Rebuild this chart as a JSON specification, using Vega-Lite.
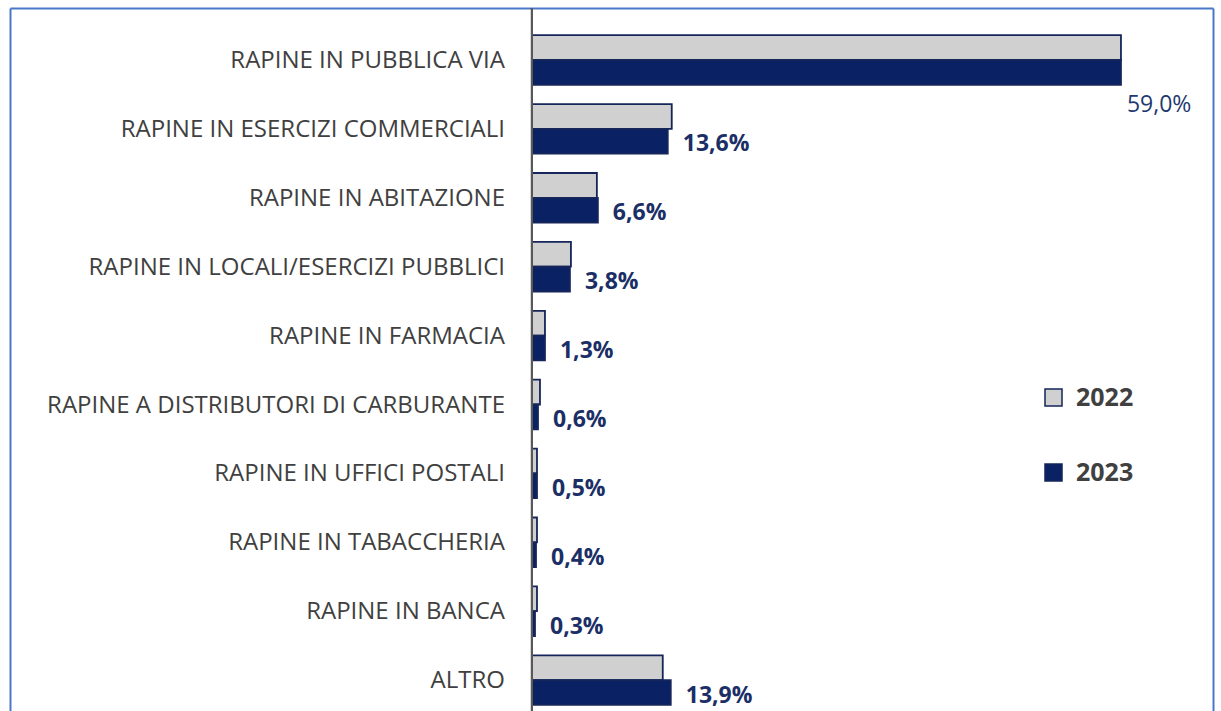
{
  "$schema": "https://vega.github.io/schema/vega-lite/v6.json",
  "autosize": {"type": "none"},
  "padding": {"top": 8, "left": 10, "right": 8, "bottom": 0},
  "width": 1203,
  "height": 703,
  "background": "white",
  "config": {
    "view": {"stroke": null},
    "locale": {"number": {"decimal": ",", "thousands": ".", "grouping": [3], "currency": ["€", ""]}},
    "font": "Open Sans"
  },
  "data": {
    "values": [
      {"cat": "RAPINE IN PUBBLICA VIA", "year": "2022", "v": 0.590},
      {"cat": "RAPINE IN PUBBLICA VIA", "year": "2023", "v": 0.590},
      {"cat": "RAPINE IN ESERCIZI COMMERCIALI", "year": "2022", "v": 0.140},
      {"cat": "RAPINE IN ESERCIZI COMMERCIALI", "year": "2023", "v": 0.136},
      {"cat": "RAPINE IN ABITAZIONE", "year": "2022", "v": 0.065},
      {"cat": "RAPINE IN ABITAZIONE", "year": "2023", "v": 0.066},
      {"cat": "RAPINE IN LOCALI/ESERCIZI PUBBLICI", "year": "2022", "v": 0.039},
      {"cat": "RAPINE IN LOCALI/ESERCIZI PUBBLICI", "year": "2023", "v": 0.038},
      {"cat": "RAPINE IN FARMACIA", "year": "2022", "v": 0.013},
      {"cat": "RAPINE IN FARMACIA", "year": "2023", "v": 0.013},
      {"cat": "RAPINE A DISTRIBUTORI DI CARBURANTE", "year": "2022", "v": 0.008},
      {"cat": "RAPINE A DISTRIBUTORI DI CARBURANTE", "year": "2023", "v": 0.006},
      {"cat": "RAPINE IN UFFICI POSTALI", "year": "2022", "v": 0.005},
      {"cat": "RAPINE IN UFFICI POSTALI", "year": "2023", "v": 0.005},
      {"cat": "RAPINE IN TABACCHERIA", "year": "2022", "v": 0.005},
      {"cat": "RAPINE IN TABACCHERIA", "year": "2023", "v": 0.004},
      {"cat": "RAPINE IN BANCA", "year": "2022", "v": 0.005},
      {"cat": "RAPINE IN BANCA", "year": "2023", "v": 0.003},
      {"cat": "ALTRO", "year": "2022", "v": 0.131},
      {"cat": "ALTRO", "year": "2023", "v": 0.139}
    ]
  },
  "resolve": {"axis": {"y": "independent"}},
  "layer": [
    {
      "mark": {"type": "bar", "stroke": "#16255a", "strokeWidth": 1.8},
      "encoding": {
        "y": {
          "field": "cat", "type": "nominal", "sort": null,
          "scale": {"paddingInner": 0.28, "paddingOuter": 0.2417, "align": 0.817},
          "axis": {"orient": "left", "labels": false, "ticks": false, "title": null, "domainColor": "#4a78c8", "domainWidth": 2}
        },
        "yOffset": {"field": "year", "type": "nominal", "scale": {"domain": ["2022", "2023"]}},
        "x": {
          "field": "v", "type": "quantitative",
          "scale": {"domain": [-0.5229, 0.6822], "nice": false, "zero": false},
          "axis": {"orient": "top", "labels": false, "ticks": false, "grid": false, "title": null, "domainColor": "#4a78c8", "domainWidth": 2}
        },
        "fill": {
          "field": "year", "type": "nominal",
          "scale": {"domain": ["2022", "2023"], "range": ["#d0d0d0", "#0a2264"]},
          "legend": {
            "title": null, "orient": "none", "legendX": 1031, "legendY": 377,
            "symbolType": "square", "symbolSize": 289, "symbolStrokeColor": "#16255a", "symbolStrokeWidth": 1.5,
            "labelFont": "Open Sans", "labelFontSize": 25, "labelFontWeight": "bold", "labelColor": "#404040",
            "labelOffset": 10, "rowPadding": 49, "padding": 0
          }
        }
      }
    },
    {
      "mark": {"type": "rule", "color": "#595959", "strokeWidth": 2},
      "encoding": {"x": {"datum": 0}}
    },
    {
      "mark": {"type": "text", "align": "right", "baseline": "middle", "dx": -27, "dy": 1, "font": "Open Sans", "fontSize": 24, "color": "#404040"},
      "transform": [{"filter": "datum.year == '2023'"}],
      "encoding": {
        "y": {"field": "cat", "type": "nominal", "sort": null, "axis": null},
        "x": {"datum": 0},
        "text": {"field": "cat"}
      }
    },
    {
      "mark": {"type": "text", "align": "left", "baseline": "middle", "dx": 15, "dy": 3, "font": "Open Sans", "fontSize": 23, "fontWeight": "bold", "color": "#1b2f66"},
      "transform": [{"filter": "datum.year == '2023' && datum.cat != 'RAPINE IN PUBBLICA VIA'"}],
      "encoding": {
        "y": {"field": "cat", "type": "nominal", "sort": null,
          "axis": {"orient": "right", "labels": false, "ticks": false, "title": null, "domainColor": "#4a78c8", "domainWidth": 2}},
        "yOffset": {"field": "year", "type": "nominal"},
        "x": {"field": "v", "type": "quantitative"},
        "text": {"field": "v", "type": "quantitative", "format": ".1%"}
      }
    },
    {
      "mark": {"type": "text", "align": "left", "baseline": "middle", "dx": 6, "dy": 33, "font": "Open Sans", "fontSize": 23, "color": "#1f3a6e"},
      "transform": [{"filter": "datum.year == '2023' && datum.cat == 'RAPINE IN PUBBLICA VIA'"}],
      "encoding": {
        "y": {"field": "cat", "type": "nominal", "sort": null, "axis": null},
        "yOffset": {"field": "year", "type": "nominal"},
        "x": {"field": "v", "type": "quantitative"},
        "text": {"field": "v", "type": "quantitative", "format": ".1%"}
      }
    }
  ]
}
